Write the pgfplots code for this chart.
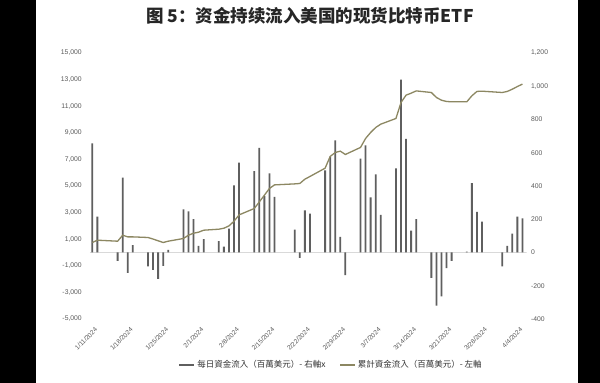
\documentclass[border=0pt]{standalone}
\usepackage{pgfplots}
\pgfplotsset{compat=1.18}
\usepackage{pgfplotstable}
\usepackage{fontspec}
\setmainfont{Liberation Sans}
\newfontfamily\cjksc{Noto Sans CJK SC}
\newfontfamily\cjktc{Noto Sans CJK TC}
\definecolor{barc}{HTML}{5F5F5F}
\definecolor{linec}{HTML}{8C8762}
\definecolor{tickc}{HTML}{595959}

% day = calendar days after 1/11/2024
\pgfplotstableread{
day daily
0 656
1 216
5 -50
6 450
7 -122
8 44
11 -84
12 -104
13 -158
14 -80
15 16
18 260
19 248
20 200
21 40
22 80
25 68
26 36
27 144
28 404
29 540
32 490
33 630
34 340
35 476
36 334
40 138
41 -32
42 254
43 234
46 494
47 576
48 674
49 94
50 -136
53 564
54 644
55 332
56 470
57 226
60 506
61 1040
62 684
63 132
64 200
67 -152
68 -320
69 -264
70 -94
71 -50
74 5
75 418
76 244
77 186
81 -84
82 40
83 114
84 216
85 206
}\dailytbl

\pgfplotstableread{
day cum
0 750
1 925
5 850
6 1300
7 1175
8 1175
11 1128
12 1010
13 880
14 752
15 850
18 1053
19 1300
20 1450
21 1527
22 1677
25 1752
26 1827
27 2000
28 2350
29 2828
32 3309
33 3805
34 4309
35 4813
36 5083
40 5159
41 5189
42 5512
43 5715
46 6340
47 7220
48 7520
49 7620
50 7370
53 7900
54 8575
55 9024
56 9400
57 9650
60 10077
61 11280
62 11830
63 11980
64 12150
67 12030
68 11655
69 11450
70 11355
71 11330
74 11330
75 11780
76 12110
77 12130
81 12030
82 12110
83 12280
84 12480
85 12660
}\cumtbl

\pgfplotsset{
  common/.style={
    scale only axis, width=436.7pt, height=266pt,
    at={(89.8pt,64pt)}, anchor=south west,
    xmin=-0.5, xmax=85.8,
    axis line style={draw=none},
    major tick length=0pt,
    scaled y ticks=false, scaled x ticks=false,
    tick label style={font=\fontsize{6.8}{8}\selectfont, text=tickc},
    /pgf/number format/assume math mode=true,
    /pgf/number format/1000 sep={,},
  },
  mylegend/.style={legend image code/.code={\draw (0pt,0pt) -- (15pt,0pt);}},
}

\begin{document}
\begin{tikzpicture}
\useasboundingbox (0,0) rectangle (600pt,383pt);
\fill[white] (0,0) rectangle (600pt,383pt);
\fill[black] (0,0) rectangle (36pt,383pt);
\fill[black] (578pt,0) rectangle (600pt,383pt);
\node[font=\cjksc\bfseries\fontsize{17.5}{19}\selectfont, text=black!85] at (310pt,367pt) {图 5：资金持续流入美国的现货比特币ETF};

\begin{axis}[common,
  axis y line*=right, axis x line=none,
  ymin=-400, ymax=1200, ytick={-400,-200,...,1200},
  yticklabel style={anchor=west, xshift=1pt},
]
\draw[gray!30, line width=0.6pt] (axis cs:-0.5,0) -- (axis cs:85.8,0);
\addplot[ybar, bar width=1.8pt, fill=barc, draw=none] table[x=day, y=daily] {\dailytbl};
\end{axis}

\begin{axis}[common,
  axis y line*=left, axis x line*=bottom,
  ymin=-5000, ymax=15000, ytick={-5000,-3000,...,15000},
  yticklabel style={anchor=east, xshift=-4.5pt},
  xtick={0,7,14,21,28,35,42,49,56,63,70,77,84},
  xticklabels={1/11/2024,1/18/2024,1/25/2024,2/1/2024,2/8/2024,2/15/2024,2/22/2024,2/29/2024,3/7/2024,3/14/2024,3/21/2024,3/28/2024,4/4/2024},
  xticklabel style={rotate=45, anchor=north east, inner sep=0pt, yshift=-7pt, xshift=-4pt, font=\fontsize{6.5}{7}\selectfont},
  legend columns=2,
  legend cell align=left,
  legend style={at={(0.552,-0.173)}, anchor=center, draw=none, fill=none,
    font=\cjktc\fontsize{8.5}{9.5}\selectfont, text=black!80,
    /tikz/every even column/.append style={column sep=12pt}},
]
\addlegendimage{mylegend, barc, line width=2.5pt}
\addlegendentry{每日資金流入（百萬美元）- 右軸x}
\addplot[linec, line width=1.3pt, mylegend] table[x=day, y=cum] {\cumtbl};
\addlegendentry{累計資金流入（百萬美元）- 左軸}
\end{axis}
\end{tikzpicture}
\end{document}
